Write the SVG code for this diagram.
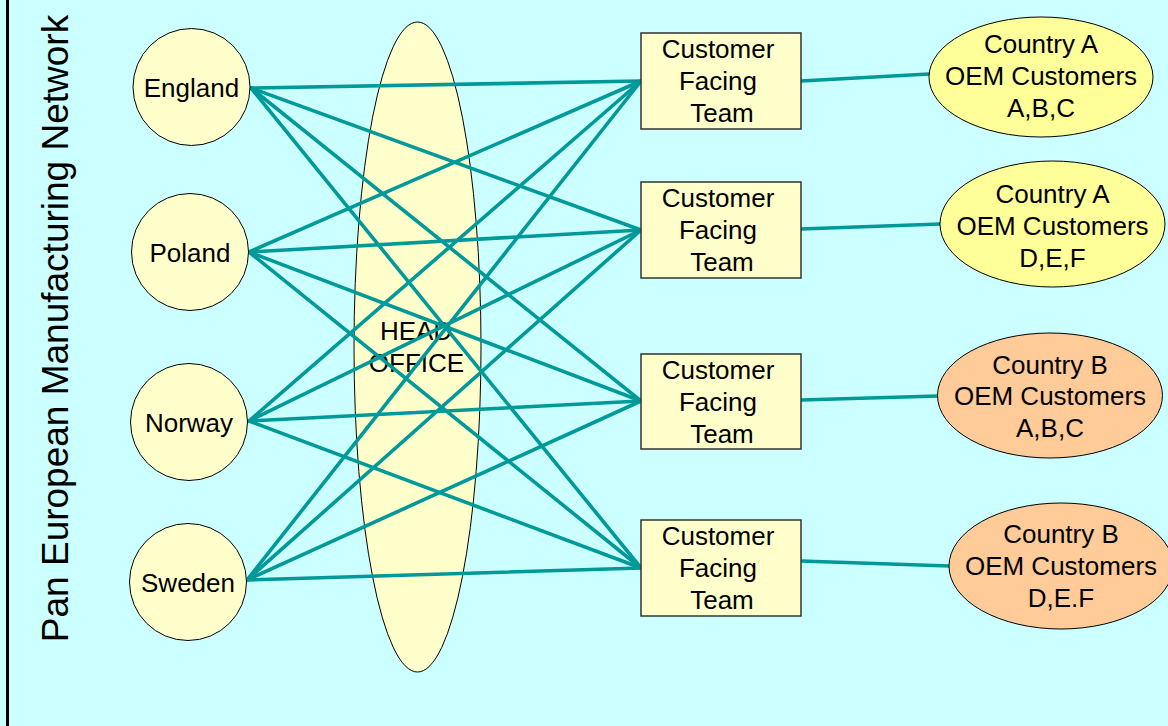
<svg xmlns="http://www.w3.org/2000/svg" width="1168" height="726" viewBox="0 0 1168 726">
  <style>
    text { font-family: "Liberation Sans", Arial, sans-serif; font-size: 26px; fill: #000; text-anchor: middle; }
    .title { font-size: 37px; }
    .site { fill: #FFFFCC; stroke: #000; stroke-width: 1; }
    .team { fill: #FFFFCC; stroke: #333; stroke-width: 1.5; }
    .custA { fill: #FFFF99; stroke: #000; stroke-width: 1; }
    .custB { fill: #FFCC99; stroke: #000; stroke-width: 1; }
    .link { stroke: #009999; stroke-width: 3.6; fill: none; stroke-linecap: round; }
  </style>

  <!-- background and left rule -->
  <rect x="0" y="0" width="1168" height="726" fill="#CCFFFF"/>
  <line x1="7.5" y1="0" x2="7.5" y2="726" stroke="#000" stroke-width="3"/>

  <!-- side title -->
  <text class="title" transform="translate(68,328.5) rotate(-90)">Pan European Manufacturing Network</text>

  <!-- head office -->
  <g id="head-office">
    <ellipse class="site" cx="417.5" cy="347" rx="63.5" ry="325"/>
    <text x="416" y="340">HEAD</text>
    <text x="416.5" y="372">OFFICE</text>
  </g>

  <!-- connectors -->
  <g id="connectors">
    <!-- England -->
    <line class="link" x1="251" y1="88" x2="641" y2="81"/>
    <line class="link" x1="251" y1="88" x2="641" y2="230"/>
    <line class="link" x1="251" y1="88" x2="641" y2="401"/>
    <line class="link" x1="251" y1="88" x2="641" y2="568"/>
    <!-- Poland -->
    <line class="link" x1="249" y1="252" x2="641" y2="81"/>
    <line class="link" x1="249" y1="252" x2="641" y2="230"/>
    <line class="link" x1="249" y1="252" x2="641" y2="401"/>
    <line class="link" x1="249" y1="252" x2="641" y2="568"/>
    <!-- Norway -->
    <line class="link" x1="249" y1="421" x2="641" y2="81"/>
    <line class="link" x1="249" y1="421" x2="641" y2="230"/>
    <line class="link" x1="249" y1="421" x2="641" y2="401"/>
    <line class="link" x1="249" y1="421" x2="641" y2="568"/>
    <!-- Sweden -->
    <line class="link" x1="247" y1="580" x2="641" y2="81"/>
    <line class="link" x1="247" y1="580" x2="641" y2="230"/>
    <line class="link" x1="247" y1="580" x2="641" y2="401"/>
    <line class="link" x1="247" y1="580" x2="641" y2="568"/>
    <!-- teams to customers -->
    <line class="link" x1="801" y1="81" x2="929" y2="74"/>
    <line class="link" x1="801" y1="229" x2="940" y2="224"/>
    <line class="link" x1="801" y1="400" x2="938" y2="396"/>
    <line class="link" x1="801" y1="561" x2="949" y2="566"/>
  </g>

  <!-- manufacturing sites -->
  <g id="england">
    <circle class="site" cx="191.5" cy="87" r="58.5"/>
    <text x="191.5" y="97">England</text>
  </g>
  <g id="poland">
    <circle class="site" cx="190" cy="252" r="58.5"/>
    <text x="190" y="262">Poland</text>
  </g>
  <g id="norway">
    <circle class="site" cx="189" cy="422" r="58.5"/>
    <text x="189" y="432">Norway</text>
  </g>
  <g id="sweden">
    <circle class="site" cx="188" cy="582" r="58.5"/>
    <text x="188" y="592">Sweden</text>
  </g>

  <!-- customer facing teams -->
  <g id="team-1">
    <rect class="team" x="641" y="33" width="160" height="96"/>
    <text x="718" y="58">Customer</text>
    <text x="718" y="90">Facing</text>
    <text x="722" y="122">Team</text>
  </g>
  <g id="team-2">
    <rect class="team" x="641" y="182" width="160" height="96"/>
    <text x="718" y="207">Customer</text>
    <text x="718" y="239">Facing</text>
    <text x="722" y="271">Team</text>
  </g>
  <g id="team-3">
    <rect class="team" x="641" y="354" width="160" height="95"/>
    <text x="718" y="379">Customer</text>
    <text x="718" y="411">Facing</text>
    <text x="722" y="443">Team</text>
  </g>
  <g id="team-4">
    <rect class="team" x="641" y="520" width="160" height="96"/>
    <text x="718" y="545">Customer</text>
    <text x="718" y="577">Facing</text>
    <text x="722" y="609">Team</text>
  </g>

  <!-- OEM customer groups -->
  <g id="customers-a-abc">
    <ellipse class="custA" cx="1041" cy="77" rx="112" ry="60"/>
    <text x="1041" y="53">Country A</text>
    <text x="1041" y="85">OEM Customers</text>
    <text x="1041" y="117">A,B,C</text>
  </g>
  <g id="customers-a-def">
    <ellipse class="custA" cx="1052.5" cy="224" rx="112.5" ry="63"/>
    <text x="1052.5" y="203">Country A</text>
    <text x="1052.5" y="235">OEM Customers</text>
    <text x="1052.5" y="267">D,E,F</text>
  </g>
  <g id="customers-b-abc">
    <ellipse class="custB" cx="1050" cy="395.5" rx="112.5" ry="62.5"/>
    <text x="1050" y="374">Country B</text>
    <text x="1050" y="405">OEM Customers</text>
    <text x="1050" y="437">A,B,C</text>
  </g>
  <g id="customers-b-def">
    <ellipse class="custB" cx="1061" cy="566" rx="112" ry="63"/>
    <text x="1061" y="543">Country B</text>
    <text x="1061" y="575">OEM Customers</text>
    <text x="1061" y="607">D,E.F</text>
  </g>
</svg>
